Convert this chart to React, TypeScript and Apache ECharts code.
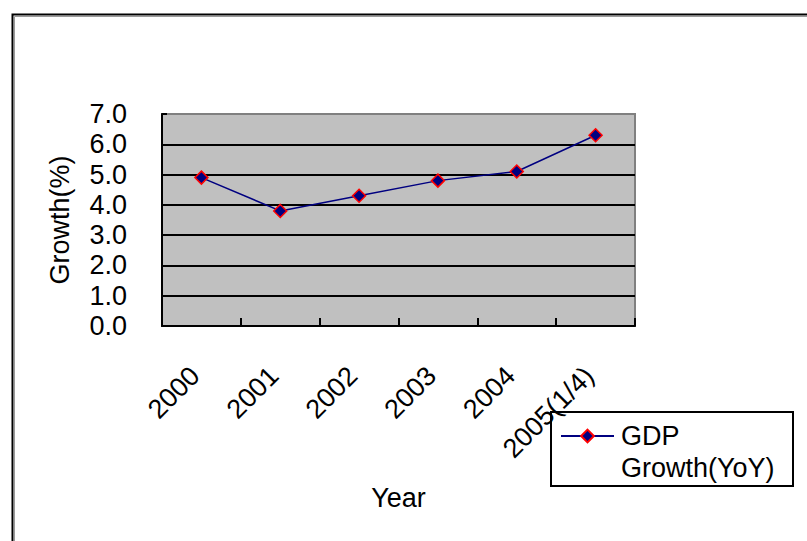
import React, { useEffect, useRef } from "react";
import * as echarts from "echarts";

// Annual GDP growth, with the first quarter of 2005
const categories: string[] = ["2000", "2001", "2002", "2003", "2004", "2005(1/4)"];
const growth: number[] = [4.9, 3.8, 4.3, 4.8, 5.1, 6.3];
const seriesName = "GDP Growth(YoY)";
const yAxisName = "Growth(%)";
const xAxisName = "Year";

const FONT = "'Liberation Sans', Arial, sans-serif";
const FS = 27;

export default function App() {
  const ref = useRef<HTMLDivElement>(null);

  useEffect(() => {
    if (!ref.current) return;
    const chart = echarts.init(ref.current, undefined, { renderer: "svg" });

    // split lines: black inside the plot, the top one blends into the gray frame
    const splitColors = ["#000", "#000", "#000", "#000", "#000", "#000", "#000", "#808080"];

    chart.setOption({
      animation: false,
      backgroundColor: "#ffffff",
      textStyle: { fontFamily: FONT, color: "#000" },
      grid: {
        left: 162,
        top: 114,
        width: 473,
        height: 212,
        show: true,
        backgroundColor: "#c0c0c0",
        borderColor: "#808080",
        borderWidth: 2,
        outerBoundsMode: "none",
      },
      xAxis: {
        type: "category",
        data: categories,
        boundaryGap: true,
        name: xAxisName,
        nameLocation: "middle",
        nameGap: 158,
        nameMoveOverlap: false,
        nameTextStyle: { fontSize: FS, color: "#000", fontFamily: FONT },
        axisLine: { show: true, lineStyle: { color: "#000", width: 2 } },
        axisTick: { show: true, inside: true, length: 8, lineStyle: { color: "#000", width: 2 } },
        axisLabel: {
          rotate: 45,
          margin: 39,
          padding: [0, 9, 0, 0],
          fontSize: FS,
          color: "#000",
          fontFamily: FONT,
          interval: 0,
        },
        splitLine: { show: false },
      },
      yAxis: {
        type: "value",
        min: 0,
        max: 7,
        interval: 1,
        name: yAxisName,
        nameLocation: "middle",
        nameGap: 89,
        nameMoveOverlap: false,
        nameTextStyle: { fontSize: FS, color: "#000", fontFamily: FONT },
        axisLine: { show: true, lineStyle: { color: "#000", width: 2 } },
        axisTick: { show: true, inside: true, length: 5, lineStyle: { color: "#000", width: 2 } },
        axisLabel: {
          margin: 35,
          fontSize: FS,
          color: "#000",
          fontFamily: FONT,
          formatter: (v: number) => v.toFixed(1),
        },
        splitLine: { show: true, lineStyle: { color: splitColors, width: 2 } },
      },
      legend: {
        show: true,
        left: 560,
        top: 388,
        padding: 0,
        itemWidth: 53,
        itemHeight: 16,
        itemGap: 0,
        orient: "vertical",
        // blank first line keeps the icon level with "GDP"
        formatter: (name: string) => "\n" + name.replace(" ", "\n"),
        textStyle: {
          fontSize: FS,
          lineHeight: 32,
          color: "#000",
          fontFamily: FONT,
          padding: [0, 0, 0, 2],
        },
        data: [seriesName],
      },
      graphic: [
        // outer chart frame
        {
          type: "rect",
          left: 10,
          top: 12,
          shape: { width: 1000, height: 1000 },
          style: { fill: "none", stroke: "#000", lineWidth: 2 },
          silent: true,
          z: 100,
        },
        {
          type: "rect",
          left: 12,
          top: 14,
          shape: { width: 1000, height: 1000 },
          style: { fill: "none", stroke: "#9a9a9a", lineWidth: 1 },
          silent: true,
          z: 100,
        },
        // legend frame
        {
          type: "rect",
          x: 551,
          y: 412,
          shape: { width: 242, height: 74 },
          style: { fill: "#ffffff", stroke: "#000", lineWidth: 2 },
          silent: true,
          z: -1,
        },
      ],
      series: [
        {
          name: seriesName,
          type: "line",
          data: growth,
          symbol: "diamond",
          symbolSize: 13,
          showSymbol: true,
          lineStyle: { color: "#000080", width: 1.5 },
          itemStyle: { color: "#000080", borderColor: "#ff0000", borderWidth: 1.5 },
          z: 5,
        },
      ],
    });

    return () => chart.dispose();
  }, []);

  return (
    <div
      ref={ref}
      style={{ position: "fixed", left: 0, top: 0, width: 807, height: 541 }}
    />
  );
}
